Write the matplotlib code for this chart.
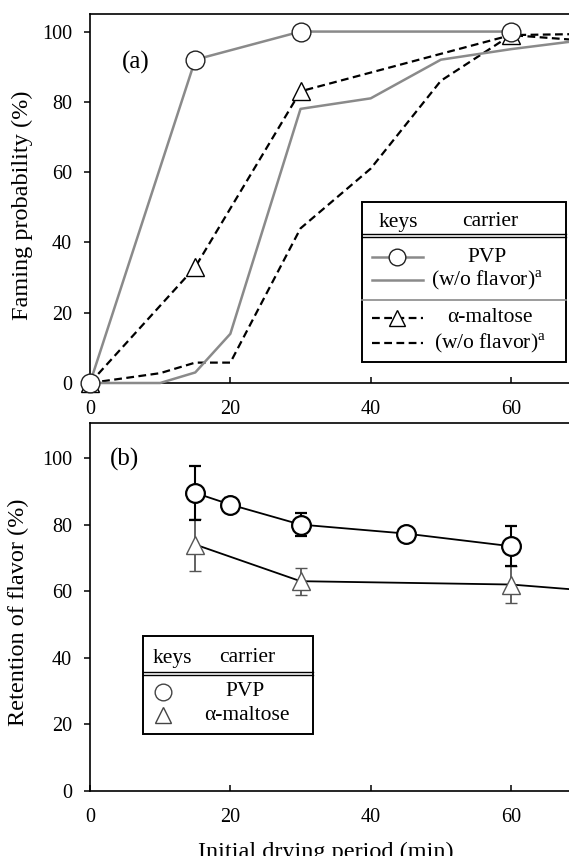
import matplotlib
matplotlib.use('Agg')
import matplotlib.pyplot as plt
from matplotlib.lines import Line2D
from matplotlib.patches import Rectangle

plt.rcParams['font.family'] = 'Liberation Serif'
plt.rcParams['mathtext.fontset'] = 'custom'
plt.rcParams['mathtext.rm'] = 'Liberation Serif'

W, H = 569, 856

# (a) faming probability (%) vs initial drying period (min)
pvp_t = [0, 15, 30, 60]
pvp_p = [0, 92, 100, 100]
pvp0_t = [0, 10, 15, 20, 30, 40, 50, 60, 70]
pvp0_p = [0, 0, 3, 14, 78, 81, 92, 95, 97.5]
mal_t = [0, 15, 30, 60, 70]
mal_p = [0, 33, 83, 99, 99.3]
mal0_t = [0, 10, 15, 20, 30, 40, 50, 60, 70]
mal0_p = [0, 2.8, 5.8, 5.8, 44, 61, 86, 99, 97.5]

# (b) retention of flavor (%)
ret_pvp_t = [15, 20, 30, 45, 60]
ret_pvp = [89.5, 86, 80, 77.3, 73.5]
ret_pvp_err = [8, 2, 3.5, 0, 6]
ret_mal_t = [15, 30, 60, 90]
ret_mal = [74, 63, 62, 57]
ret_mal_err = [7.8, 4, 5.5, 0]

x_ticks = [0, 20, 40, 60]
y_ticks = [0, 20, 40, 60, 80, 100]

GREY = '#8a8a8a'
FS = 14.5
LFS = 15.5


def fx(x):
    return x / W


def fy(y):
    return 1 - y / H


def style_axes(ax, ymax):
    ax.set_xlim(0, 68.26)
    ax.set_ylim(0, ymax)
    ax.set_xticks(x_ticks)
    ax.set_yticks(y_ticks)
    ax.spines['right'].set_visible(False)
    for s in ['left', 'bottom', 'top']:
        ax.spines[s].set_linewidth(1.2)
    ax.tick_params(axis='x', direction='in', length=4, width=1.1, pad=12, labelsize=FS)
    ax.tick_params(axis='y', direction='out', length=4, width=1.1, pad=9, labelsize=FS)


fig = plt.figure(figsize=(W / 100, H / 100), dpi=100)
ax1 = fig.add_axes([fx(90), fy(383), fx(569) - fx(90), fy(14) - fy(383)])
ax2 = fig.add_axes([fx(90), fy(791), fx(569) - fx(90), fy(423) - fy(791)])

# panel (a)
ax1.plot(mal0_t, mal0_p, color='black', lw=1.6, dashes=(3.5, 2), clip_on=False, zorder=3)
ax1.plot(mal_t, mal_p, color='black', lw=1.6, dashes=(3.5, 2), marker='^', ms=13.5,
         mfc='white', mec='black', mew=1.0, clip_on=False, zorder=4)
ax1.plot(pvp0_t, pvp0_p, color=GREY, lw=1.8, clip_on=False, zorder=3)
ax1.plot(pvp_t, pvp_p, color=GREY, lw=1.8, marker='o', ms=13.5,
         mfc='white', mec='#222222', mew=1.0, clip_on=False, zorder=5)
style_axes(ax1, 105)
ax1.text(0.095, 0.868, '(a)', transform=ax1.transAxes, fontsize=18, ha='center', va='center')

# panel (b)
ax2.errorbar(ret_mal_t, ret_mal, yerr=ret_mal_err, color='black', lw=1.3, ecolor='#555555',
             elinewidth=1.3, capsize=4, capthick=1.3, marker='^', ms=13.5, mfc='white',
             mec='#555555', mew=1.0, clip_on=False, zorder=3)
ax2.errorbar(ret_pvp_t, ret_pvp, yerr=ret_pvp_err, color='black', lw=1.3, ecolor='black',
             elinewidth=1.5, capsize=4, capthick=1.5, marker='o', ms=13.5, mfc='white',
             mec='black', mew=1.6, clip_on=False, zorder=4)
style_axes(ax2, 110.5)
ax2.text(0.072, 0.9, '(b)', transform=ax2.transAxes, fontsize=18, ha='center', va='center')

# axis labels
fig.text(fx(22), fy(205), 'Faming probability (%)', rotation=90, ha='center', va='center', fontsize=17.5)
fig.text(fx(18), fy(612), 'Retention of flavor (%)', rotation=90, ha='center', va='center', fontsize=17.5)
fig.text(fx(326), fy(852), 'Initial drying period (min)', ha='center', va='center', fontsize=17.5)


def hline(x0, x1, y, **kw):
    fig.add_artist(Line2D([fx(x0), fx(x1)], [fy(y), fy(y)], transform=fig.transFigure, zorder=8, **kw))


def marker(x, y, **kw):
    fig.add_artist(Line2D([fx(x)], [fy(y)], transform=fig.transFigure, ls='none', zorder=9, **kw))


def box(x0, y0, x1, y1):
    fig.add_artist(Rectangle((fx(x0), fy(y1)), fx(x1) - fx(x0), fy(y0) - fy(y1),
                             transform=fig.transFigure, lw=1.4, ec='black', fc='white', zorder=7))


def label(x, y, s):
    fig.text(fx(x), fy(y), s, ha='center', va='center', fontsize=LFS, zorder=10)


# legend table (a)
box(362, 202, 566, 362)
label(398, 222, 'keys')
label(490, 222, 'carrier')
hline(362, 566, 234, color='black', lw=1.0)
hline(362, 566, 237, color='black', lw=1.0)
hline(372, 423, 257, color=GREY, lw=1.8)
marker(397, 257, marker='o', ms=12, mfc='white', mec='#222222', mew=1.0)
label(487, 257, 'PVP')
hline(372, 423, 280, color=GREY, lw=1.8)
label(487, 280, '(w/o flavor)$^{\\rm a}$')
hline(362, 566, 300, color=GREY, lw=1.2)
hline(372, 423, 318, color='black', lw=1.6, dashes=(3.5, 2))
marker(397, 318, marker='^', ms=12, mfc='white', mec='black', mew=1.0)
label(490, 318, 'α-maltose')
hline(372, 423, 343, color='black', lw=1.6, dashes=(3.5, 2))
label(490, 343, '(w/o flavor)$^{\\rm a}$')

# legend table (b)
box(143, 636, 313, 734)
label(172, 658, 'keys')
label(247, 658, 'carrier')
hline(143, 313, 672, color='black', lw=1.0)
hline(143, 313, 675, color='black', lw=1.0)
marker(163, 692, marker='o', ms=12, mfc='white', mec='#444444', mew=1.0)
label(245, 692, 'PVP')
marker(163, 715, marker='^', ms=12, mfc='white', mec='#444444', mew=1.0)
label(247, 715, 'α-maltose')

fig.savefig('out.png', dpi=100)
